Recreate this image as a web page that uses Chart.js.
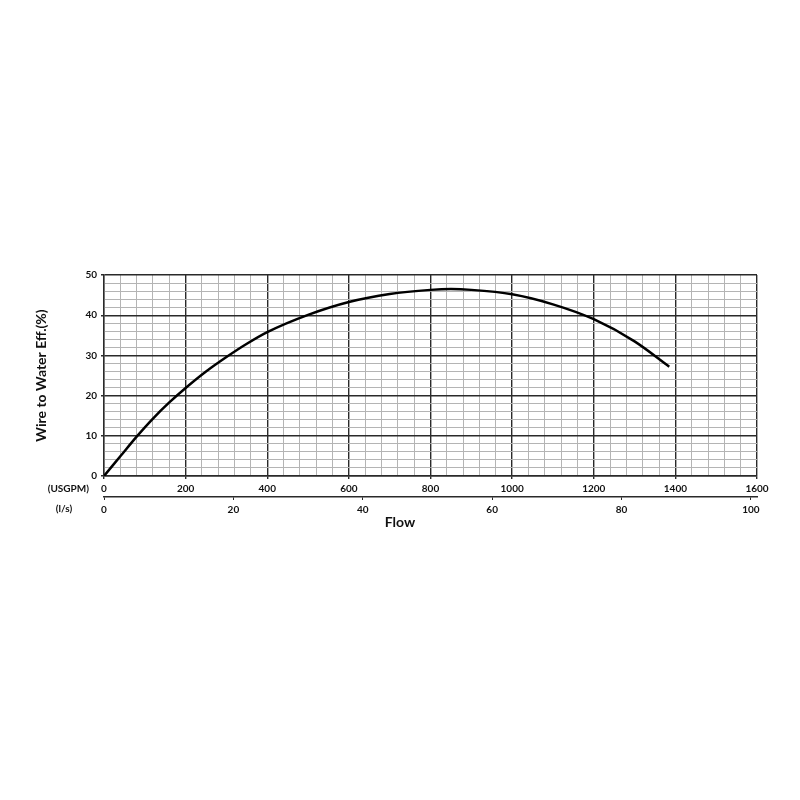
<!DOCTYPE html>
<html>
<head>
<meta charset="utf-8">
<script src="https://cdn.jsdelivr.net/npm/chart.js@4/dist/chart.umd.min.js"></script>
<style>
  html, body { margin: 0; padding: 0; background: #fff; }
  #wrap { width: 800px; height: 800px; }
</style>
</head>
<body>
<div id="wrap"><canvas id="effChart" width="800" height="800"></canvas></div>
<script>
// pump curve
const flowUsgpm = [0, 40, 80, 120, 160, 200, 250, 300, 350, 400, 500, 600, 700, 800, 850, 900, 1000, 1100, 1200, 1300, 1385];
const wireToWater = [0, 4.9, 9.8, 14.3, 18.3, 21.9, 26, 29.6, 32.9, 35.8, 40.1, 43.3, 45.3, 46.3, 46.5, 46.3, 45.2, 42.7, 39, 33.5, 27.2];

const flowTicks = [0, 200, 400, 600, 800, 1000, 1200, 1400, 1600];
const lpsTicks = [0, 20, 40, 60, 80, 100];
const effTicks = [0, 10, 20, 30, 40, 50];
const USGPM_PER_LPS = 15.85;

const MAJOR = '#2a2a2a';
const MINOR = '#b4b4b4';
const FONT = 'Lato, "Liberation Sans", sans-serif';

Chart.defaults.color = '#111';
Chart.defaults.font.family = FONT;

const points = flowUsgpm.map((f, i) => ({ x: f, y: wireToWater[i] }));

// unit labels on the left and the "Flow" caption (sits left of centre on the sheet)
const sideLabels = {
    id: 'sideLabels',
    afterDraw(chart) {
        const ctx = chart.ctx;
        const x = chart.scales.x;
        const x2 = chart.scales.x2;
        ctx.save();
        ctx.fillStyle = '#111';
        ctx.font = 'bold 10px ' + FONT;
        ctx.textBaseline = 'middle';
        ctx.textAlign = 'right';
        ctx.fillText('(USGPM)', 89, x.top + 13);
        ctx.textAlign = 'center';
        ctx.fillText('(l/s)', 64, x2.top + 12);
        ctx.font = 'bold 14px ' + FONT;
        ctx.fillText('Flow', x.getPixelForValue(725), x2.top + 25);
        ctx.restore();
    }
};

new Chart(document.getElementById('effChart').getContext('2d'), {
    type: 'scatter',
    data: {
        datasets: [{
            data: points,
            showLine: true,
            borderColor: '#000',
            borderWidth: 2.5,
            pointRadius: 0,
            cubicInterpolationMode: 'monotone',
            fill: false
        }]
    },
    options: {
        responsive: false,
        animation: false,
        devicePixelRatio: 1,
        layout: { padding: { left: 29, right: 43, top: 275, bottom: 266 } },
        plugins: {
            legend: { display: false },
            tooltip: { enabled: false }
        },
        scales: {
            x: {
                type: 'linear',
                position: 'bottom',
                weight: 0,
                min: 0,
                max: 1600,
                afterFit: s => { s.height = 21; },
                ticks: {
                    stepSize: 40,
                    autoSkip: false,
                    maxRotation: 0,
                    padding: 4,
                    font: { size: 10, weight: 'bold' },
                    callback: v => flowTicks.includes(v) ? String(v) : ''
                },
                grid: {
                    color: c => flowTicks.includes(c.tick.value) ? MAJOR : MINOR,
                    lineWidth: c => flowTicks.includes(c.tick.value) ? 1.4 : 1,
                    tickColor: c => flowTicks.includes(c.tick.value) ? MAJOR : 'rgba(0,0,0,0)',
                    tickLength: 3
                },
                border: { color: MAJOR, width: 1.4 }
            },
            x2: {
                type: 'linear',
                position: 'bottom',
                weight: 1,
                min: 0,
                max: 1600 / USGPM_PER_LPS,
                afterFit: s => { s.height = 37; },
                afterBuildTicks: s => { s.ticks = lpsTicks.map(v => ({ value: v })); },
                ticks: {
                    autoSkip: false,
                    maxRotation: 0,
                    padding: 4,
                    font: { size: 10, weight: 'bold' }
                },
                grid: {
                    drawOnChartArea: false,
                    tickColor: MAJOR,
                    tickLength: 3
                },
                border: { color: MAJOR, width: 1.4 }
            },
            y: {
                min: 0,
                max: 50,
                afterFit: s => { s.width = 75; },
                ticks: {
                    stepSize: 2,
                    autoSkip: false,
                    padding: 4,
                    font: { size: 10, weight: 'bold' },
                    callback: v => effTicks.includes(v) ? String(v) : ''
                },
                grid: {
                    color: c => effTicks.includes(c.tick.value) ? MAJOR : MINOR,
                    lineWidth: c => effTicks.includes(c.tick.value) ? 1.4 : 1,
                    tickColor: c => effTicks.includes(c.tick.value) ? MAJOR : 'rgba(0,0,0,0)',
                    tickLength: 3
                },
                border: { color: MAJOR, width: 1.4 },
                title: {
                    display: true,
                    text: 'Wire to Water Eff.(%)',
                    font: { size: 14, weight: 'bold' },
                    color: '#111'
                }
            }
        }
    },
    plugins: [sideLabels]
});
</script>
</body>
</html>
